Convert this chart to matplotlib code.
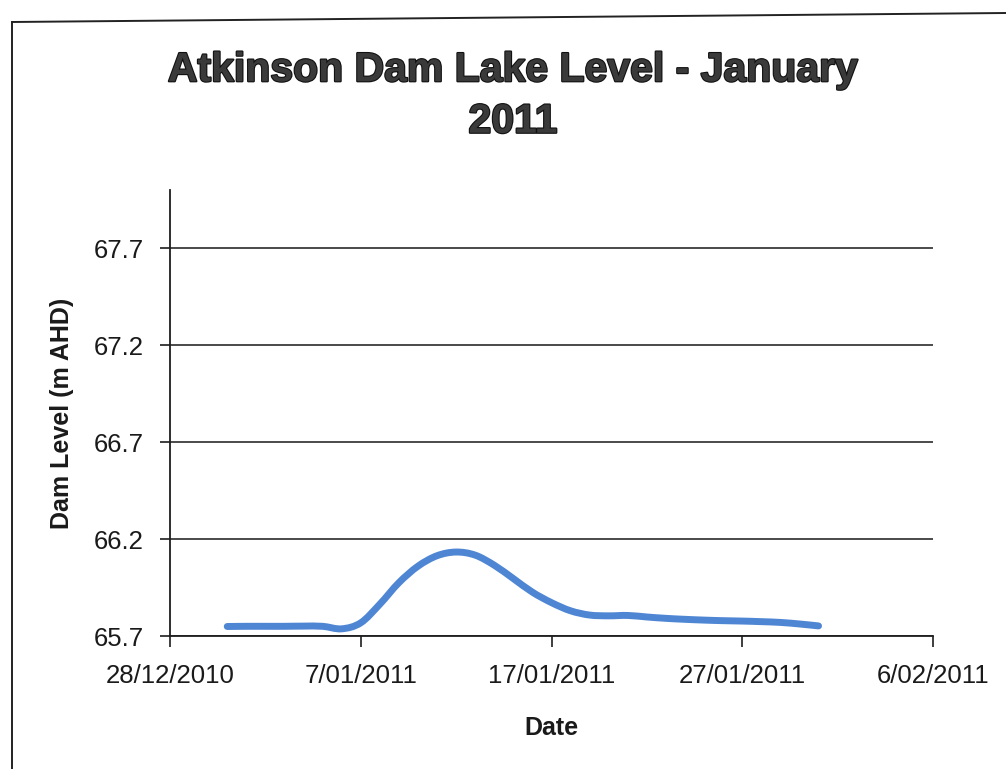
import matplotlib
matplotlib.use("Agg")
import matplotlib.pyplot as plt
import matplotlib.dates as mdates
from matplotlib.lines import Line2D
from matplotlib.path import Path
from matplotlib.patches import PathPatch
from matplotlib.ticker import FuncFormatter
import matplotlib.patheffects as pe
import numpy as np
import pandas as pd

# Daily lake level readings (m AHD), 31 Dec 2010 - 31 Jan 2011
dates = pd.date_range("2010-12-31", "2011-01-31", freq="D")
levels = [
    65.749, 65.750, 65.750, 65.750, 65.751, 65.750, 65.737, 65.768,
    65.864, 65.975, 66.060, 66.114, 66.133, 66.117, 66.065, 65.996,
    65.926, 65.872, 65.830, 65.808, 65.804, 65.806, 65.798, 65.791,
    65.786, 65.782, 65.779, 65.777, 65.774, 65.770, 65.762, 65.752,
]

y_ticks = [65.7, 66.2, 66.7, 67.2, 67.7]
x_ticks = pd.to_datetime(["2010-12-28", "2011-01-07", "2011-01-17",
                          "2011-01-27", "2011-02-06"])

title = "Atkinson Dam Lake Level - January\n2011"
x_label = "Date"
y_label = "Dam Level (m AHD)"


def smoothed_path(xs, ys):
    """Bezier path through every point (spreadsheet-style smoothed line)."""
    pts = np.column_stack([xs, ys])
    ext = np.vstack([pts[0], pts, pts[-1]])
    verts = [pts[0]]
    codes = [Path.MOVETO]
    for i in range(1, len(ext) - 2):
        p0, p1, p2, p3 = ext[i - 1], ext[i], ext[i + 1], ext[i + 2]
        c1 = p1 + (p2 - p0) / 6.0
        c2 = p2 - (p3 - p1) / 6.0
        verts += [c1, c2, p2]
        codes += [Path.CURVE4] * 3
    return Path(verts, codes)


W, H = 1006, 769
fig = plt.figure(figsize=(W / 100, H / 100), dpi=100)
fig.patch.set_facecolor("white")

ax = fig.add_axes([170 / W, 1 - 636 / H, (933 - 170) / W, (636 - 190) / H])

xnum = mdates.date2num(dates)
ax.add_patch(PathPatch(smoothed_path(xnum, levels), facecolor="none",
                       edgecolor="#4f86d4", lw=5.0, capstyle="round",
                       joinstyle="round", zorder=3))

ax.set_ylim(65.7, 68.0)
ax.set_yticks(y_ticks)
ax.yaxis.set_major_formatter(FuncFormatter(lambda v, p: f"{v:.1f}"))
ax.xaxis_date()
ax.set_xlim(x_ticks[0], x_ticks[-1])
ax.set_xticks(x_ticks)
ax.xaxis.set_major_formatter(FuncFormatter(
    lambda v, p: (lambda d: f"{d.day}/{d.month:02d}/{d.year}")(mdates.num2date(v))))

ax.grid(axis="y", color="#2b2b2b", lw=1.2, zorder=1)
ax.grid(axis="x", visible=False)
for side in ("top", "right"):
    ax.spines[side].set_visible(False)
for side in ("left", "bottom"):
    ax.spines[side].set_color("#1e1e1e")
    ax.spines[side].set_linewidth(1.3)

ax.tick_params(axis="y", direction="out", length=7, width=1.2, color="#1e1e1e",
               pad=12, labelsize=18.5, labelcolor="#1a1a1a")
ax.tick_params(axis="x", direction="out", length=8, width=1.2, color="#1e1e1e",
               pad=12, labelsize=18.5, labelcolor="#1a1a1a")
for lab in ax.get_xticklabels() + ax.get_yticklabels():
    lab.set_fontfamily("Liberation Sans")

ax.set_xlabel(x_label, fontfamily="Liberation Sans", fontweight="bold",
              fontsize=18, color="#1a1a1a", labelpad=20)
ax.set_ylabel(y_label, fontfamily="Liberation Sans", fontweight="bold",
              fontsize=18, color="#1a1a1a", labelpad=14)

fig.text(513 / W, 1 - 96 / H, title, ha="center", va="center",
         fontfamily="Liberation Sans", fontweight="bold", fontsize=29.5,
         color="#3a3a3a", linespacing=1.45,
         path_effects=[pe.withStroke(linewidth=1.6, foreground="#111111")])

# Page frame
fig.add_artist(Line2D([12 / W, 12 / W], [1 - 22 / H, 0], color="#222222", lw=1.4,
                      transform=fig.transFigure))
fig.add_artist(Line2D([12 / W, 1.0], [1 - 22 / H, 1 - 13 / H], color="#222222", lw=1.4,
                      transform=fig.transFigure))

fig.savefig("out.png", dpi=100, facecolor="white")
